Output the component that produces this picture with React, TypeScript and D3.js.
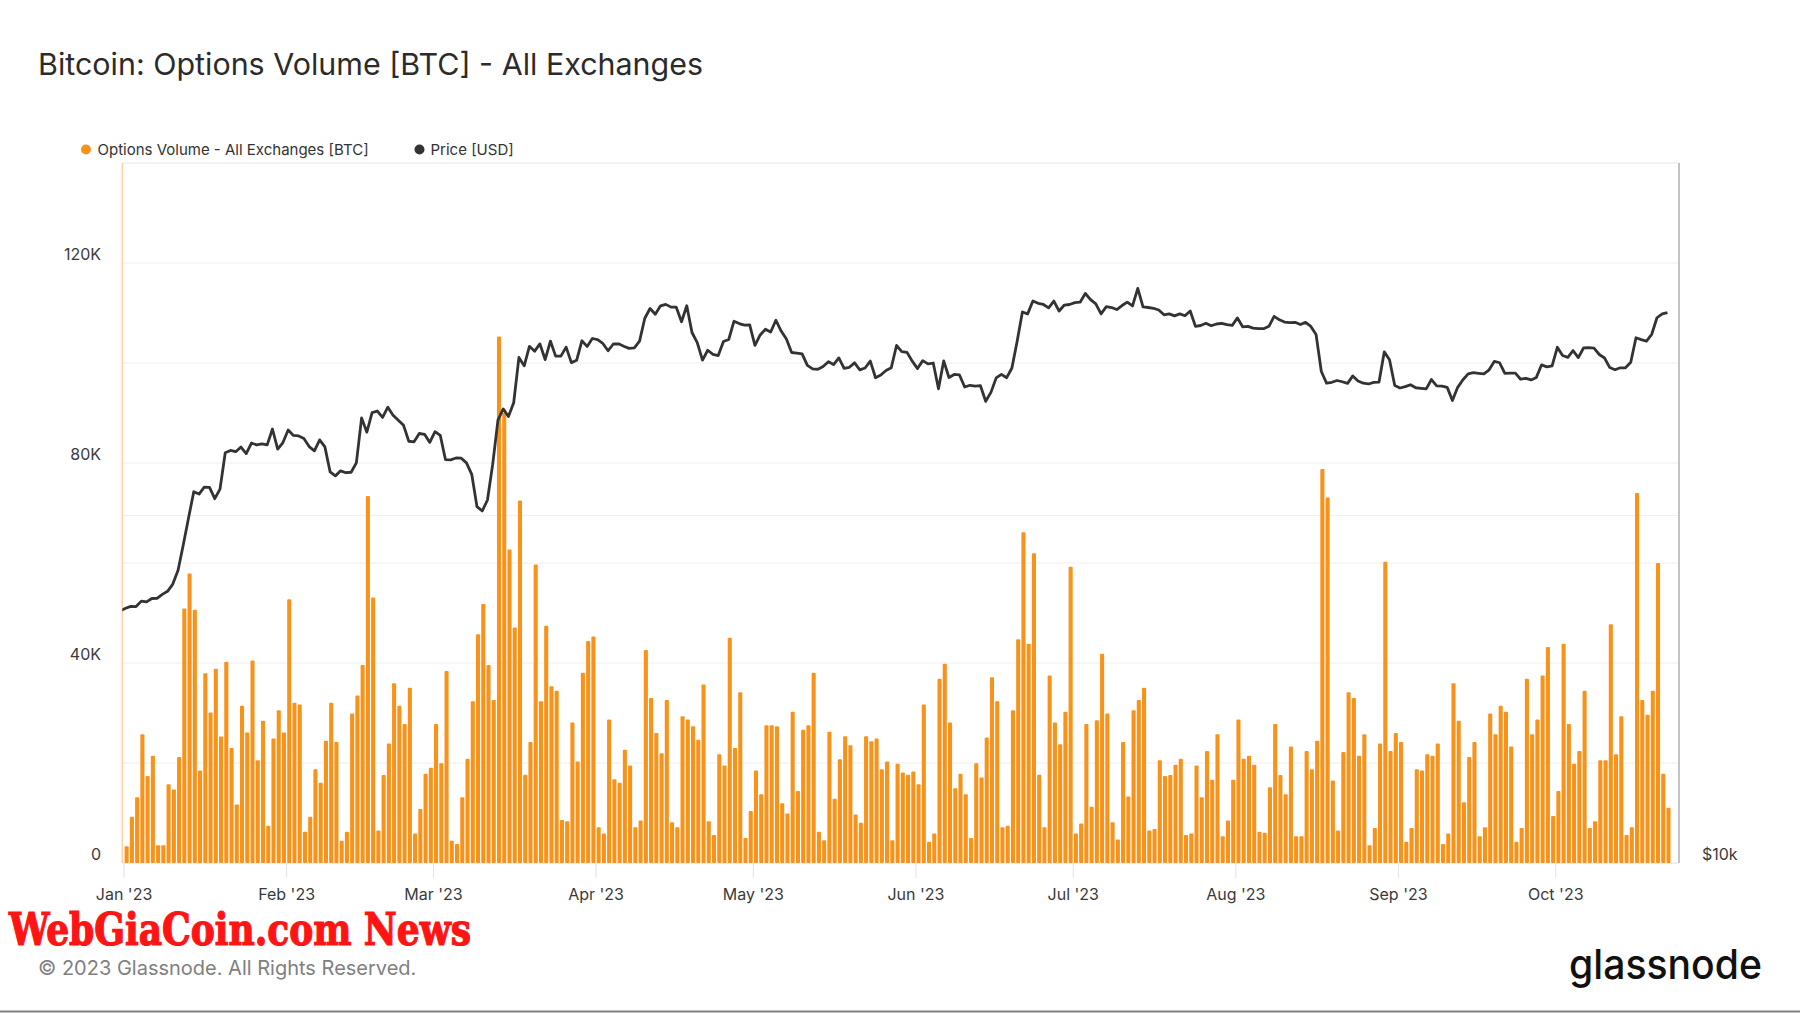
import React from "react";
import * as d3 from "d3";

const W = 1800;
const H = 1013;

// ---- Data (daily, 2023-01-01 .. 2023-10-22) ----
const volJan = [3350, 9240, 13140, 25730, 17400, 21470, 3530, 3530, 15760, 14680, 21200, 50920, 57890, 50650, 18480, 37960, 30080, 38870, 25280, 40230, 23010, 11690, 31440, 26090, 40500, 20570, 28450, 7430, 24920, 30530, 26090];
const volFeb = [52730, 32070, 31710, 6250, 9240, 18750, 16040, 24460, 32070, 24190, 4440, 6250, 29900, 33520, 39590, 73390, 53090, 6520, 17580, 23920, 35970, 31440, 27810, 35060, 5890, 10780, 17850, 19030];
const volMar = [27810, 19930, 38410, 4440, 3810, 13140, 20840, 32340, 45750, 51820, 39590, 32620, 105280, 90000, 62700, 47110, 72480, 17670, 24190, 59710, 32340, 47470, 35330, 34430, 8610, 8340, 28090, 20290, 38050, 44390, 45300];
const volApr = [7160, 5890, 28720, 16760, 16040, 22650, 19480, 7160, 8520, 42580, 32980, 26000, 21930, 32620, 8150, 7160, 29350, 28720, 27360, 24640, 35700, 8340, 5620, 21740, 19480, 45030, 23010, 34160, 4980, 10420];
const volMay = [18480, 13770, 27540, 27540, 27360, 11960, 9880, 30260, 14410, 26640, 27540, 38050, 6250, 4530, 26270, 12870, 20750, 25370, 23560, 9690, 8060, 25370, 24370, 24920, 18750, 20290, 4530, 19840, 18120, 17670, 18300];
const volJun = [15760, 31710, 4260, 5890, 36870, 39860, 28090, 14950, 17850, 13770, 4980, 19930, 17120, 25100, 37150, 32340, 7160, 7430, 30530, 44760, 66140, 43850, 61970, 17670, 7160, 37510, 28090, 23740, 30260, 59250];
const volJul = [5890, 7880, 27810, 11230, 28540, 41860, 29900, 8150, 4710, 24190, 13320, 30530, 32620, 35060, 6520, 6800, 20570, 17400, 17580, 19660, 20840, 5620, 5890, 19480, 13140, 22380, 16670, 25730, 5350, 8520, 16670];
const volAug = [28720, 20840, 21470, 19660, 6250, 6070, 15130, 27810, 17580, 13770, 23280, 5350, 5350, 22380, 18750, 24460, 78820, 73110, 16490, 6520, 22200, 34160, 32980, 21470, 25730, 3530, 6980, 23920, 60250, 22380, 26000];
const volSep = [24190, 4260, 6980, 18750, 18480, 21740, 21470, 23920, 3810, 5890, 35970, 28450, 12140, 21200, 24190, 5350, 7160, 29900, 25730, 31440, 30260, 23280, 4260, 6980, 36870, 25730, 28720, 37510, 43220, 9420];
const volOct = [14410, 43850, 27810, 19840, 22380, 34430, 6980, 8340, 20570, 20570, 47750, 21740, 29350, 5620, 7160, 74020, 32620, 29630, 34430, 59980, 17850, 11050];

const priceDec = [16540];
const priceJan = [16625, 16688, 16680, 16863, 16836, 16951, 16955, 17091, 17196, 17446, 17934, 18869, 19909, 20976, 20880, 21169, 21161, 20688, 21086, 22676, 22777, 22720, 22934, 22636, 23117, 23032, 23078, 23031, 23774, 22840, 23139];
const priceFeb = [23723, 23471, 23449, 23331, 22955, 22760, 23264, 22939, 21819, 21651, 21870, 21788, 21808, 22220, 24307, 23623, 24565, 24641, 24327, 24829, 24436, 24188, 23947, 23199, 23175, 23561, 23522, 23147];
const priceMar = [23646, 23475, 22362, 22354, 22436, 22429, 22219, 21718, 20363, 20187, 20633, 22163, 24197, 24746, 24375, 25052, 27423, 26965, 28038, 27767, 28175, 27307, 28333, 27493, 27494, 27994, 27139, 27268, 28348, 28033, 28478];
const priceApr = [28411, 28199, 27790, 28168, 28177, 28044, 27925, 27947, 28333, 29653, 30235, 29892, 30400, 30485, 30318, 30315, 29446, 30398, 28822, 28245, 27276, 27818, 27591, 27525, 28307, 28422, 29473, 29340, 29248, 29268];
const priceMay = [28091, 28680, 29006, 28847, 29534, 28904, 28454, 27694, 27658, 27621, 26988, 26805, 26784, 26930, 27192, 27036, 27398, 26833, 26890, 27129, 26753, 26851, 27225, 26334, 26476, 26719, 26868, 28085, 27745, 27702, 27219];
const priceJun = [26819, 27249, 27075, 27119, 25760, 27238, 26345, 26508, 26480, 25851, 25940, 25902, 25918, 25124, 25576, 26327, 26511, 26336, 26851, 28327, 30027, 29912, 30695, 30548, 30480, 30271, 30688, 30086, 30445, 30477];
const priceJul = [30590, 30620, 31156, 30777, 30514, 29910, 30346, 30292, 30171, 30414, 30620, 30391, 31476, 30335, 30295, 30249, 30145, 29856, 29913, 29793, 29909, 29800, 30083, 29177, 29227, 29354, 29211, 29315, 29357, 29275, 29230];
const priceAug = [29676, 29152, 29179, 29074, 29042, 29041, 29180, 29766, 29561, 29430, 29397, 29415, 29283, 29408, 29170, 28701, 26664, 26049, 26096, 26189, 26124, 26040, 26431, 26163, 26049, 26008, 26089, 26106, 27727, 27298, 25932];
const priceSep = [25800, 25869, 25970, 25813, 25780, 25753, 26240, 25906, 25896, 25833, 25162, 25834, 26229, 26539, 26608, 26568, 26534, 26755, 27211, 27132, 26568, 26580, 26580, 26256, 26298, 26217, 26352, 27021, 26911, 26967];
const priceOct = [27983, 27530, 27429, 27799, 27415, 27946, 27968, 27936, 27583, 27391, 26873, 26756, 26862, 26861, 27159, 28519, 28415, 28328, 28719, 29682, 29918, 29993];

const volumeTicks = [0, 20000, 40000, 60000, 80000, 100000, 120000];
const volumeLabelTicks = [0, 40000, 80000, 120000];
const priceGridTicks = [20000];
const priceLabelTicks = [10000];

const TITLE = "Bitcoin: Options Volume [BTC] - All Exchanges";
const LEGEND = ["Options Volume - All Exchanges [BTC]", "Price [USD]"];

const ORANGE = "#f7931a";
const DARK = "#333333";
const FONT = "Inter, 'Open Sans', sans-serif";

const volumes = [...volJan, ...volFeb, ...volMar, ...volApr, ...volMay, ...volJun, ...volJul, ...volAug, ...volSep, ...volOct];
const prices = [...priceDec, ...priceJan, ...priceFeb, ...priceMar, ...priceApr, ...priceMay, ...priceJun, ...priceJul, ...priceAug, ...priceSep, ...priceOct];

const DAY = 86400000;
const START = Date.UTC(2023, 0, 1);

export default function App() {
  const left = 122.3, right = 1679, top = 163, bottom = 863;
  const x = d3
    .scaleUtc()
    .domain([new Date(START - 0.33 * DAY), new Date(START + 296.5 * DAY)])
    .range([left, right]);
  const dayW = x(new Date(START + DAY)) - x(new Date(START));
  const yV = d3.scaleLinear().domain([0, 140000]).range([bottom, top]);
  const yP = d3.scaleLog().domain([10000, 10000 * Math.pow(10, 0.6066)]).range([bottom, top]);

  const barW = dayW * 0.78;
  const bars = volumes.map((v, i) => {
    const cx = x(new Date(START + i * DAY)) + dayW * 0.5;
    return { x: cx - barW / 2, y: yV(v), h: yV(0) - yV(v) };
  });

  const pricePts: [number, number][] = prices.map((p, i) => [
    x(new Date(START + (i - 1) * DAY)) + dayW * 0.3,
    yP(p),
  ]);
  const line = d3.line().curve(d3.curveLinear)(pricePts) || "";

  const months = d3.utcMonth.range(new Date(START), new Date(Date.UTC(2023, 10, 1)));
  const fmt = d3.utcFormat("%b '%y");

  return (
    <svg
      width={W}
      height={H}
      style={{ position: "absolute", left: 0, top: 0, background: "#fff" }}
      fontFamily={FONT}
    >
      <rect x={0} y={0} width={W} height={H} fill="#fff" />
      <defs>
        <clipPath id="plotClip">
          <rect x={left} y={top} width={right - left} height={bottom - top} />
        </clipPath>
      </defs>

      <text
        x={38}
        y={75}
        fontSize={30}
        fontWeight={400}
        fill="#2b2b2b"
        textLength={665}
        lengthAdjust="spacingAndGlyphs"
      >
        {TITLE}
      </text>

      {/* legend */}
      <circle cx={86} cy={149.5} r={5} fill={ORANGE} />
      <text x={97.5} y={155} fontSize={15} fill={DARK}>{LEGEND[0]}</text>
      <circle cx={419.5} cy={149.5} r={5} fill={DARK} />
      <text x={430.5} y={155} fontSize={15} fill={DARK}>{LEGEND[1]}</text>

      {/* grid */}
      {volumeTicks.map((t) => (
        <line key={"g" + t} x1={left} x2={right} y1={yV(t)} y2={yV(t)} stroke="#eeeeee" strokeWidth={1} />
      ))}
      {priceGridTicks.map((t) => (
        <line key={"pg" + t} x1={left} x2={right} y1={yP(t)} y2={yP(t)} stroke="#eeeeee" strokeWidth={1} />
      ))}

      {/* frame */}
      <line x1={left} x2={right} y1={top} y2={top} stroke="#e6e6e6" strokeWidth={1.2} />
      <line x1={left} x2={right} y1={bottom} y2={bottom} stroke="#e6e6e6" strokeWidth={1} />
      <line x1={left} x2={left} y1={top} y2={bottom} stroke="#fcd3a1" strokeWidth={1.5} />
      <line x1={right} x2={right} y1={top} y2={bottom} stroke="#b0b0b0" strokeWidth={1.5} />

      {/* x ticks */}
      {months.map((m) => (
        <g key={m.toISOString()}>
          <line x1={x(m)} x2={x(m)} y1={bottom} y2={bottom + 15} stroke="#e3e3e3" strokeWidth={1} />
          <text x={x(m)} y={900} fontSize={16} textAnchor="middle" fill="#3a3a3a">
            {fmt(m)}
          </text>
        </g>
      ))}

      {/* left labels */}
      {volumeLabelTicks.map((t) => (
        <text key={"l" + t} x={101} y={yV(t) - 3} fontSize={16} textAnchor="end" fill="#3a3a3a">
          {t === 0 ? "0" : d3.format("~s")(t).replace("k", "K")}
        </text>
      ))}
      {/* right labels */}
      {priceLabelTicks.map((t) => (
        <text key={"r" + t} x={1702} y={yP(t) - 3} fontSize={16} textAnchor="start" fill="#3a3a3a">
          {"$" + d3.format("~s")(t)}
        </text>
      ))}

      {/* bars + price line */}
      <g clipPath="url(#plotClip)">
        {bars.map((b, i) => (
          <rect key={i} x={b.x} y={b.y} width={barW} height={b.h} rx={1} fill={ORANGE} />
        ))}
        <path d={line} fill="none" stroke={DARK} strokeWidth={2.8} strokeLinejoin="round" />
      </g>

      {/* watermark */}
      <text
        x={9}
        y={945}
        fontSize={44}
        fontWeight={700}
        fontFamily="'DejaVu Serif Condensed', 'DejaVu Serif', serif"
        fill="#ff1414"
        stroke="#ff1414"
        strokeWidth={1.2}
        textLength={462}
        lengthAdjust="spacingAndGlyphs"
      >
        WebGiaCoin.com News
      </text>

      <text x={38} y={975} fontSize={20} fill="#808080">
        © 2023 Glassnode. All Rights Reserved.
      </text>

      <text
        x={1569}
        y={979}
        fontSize={41}
        fontWeight={500}
        fill="#111"
        textLength={193}
        lengthAdjust="spacingAndGlyphs"
      >
        glassnode
      </text>

      <line x1={0} x2={W} y1={1011.5} y2={1011.5} stroke="#808080" strokeWidth={2} />
    </svg>
  );
}
